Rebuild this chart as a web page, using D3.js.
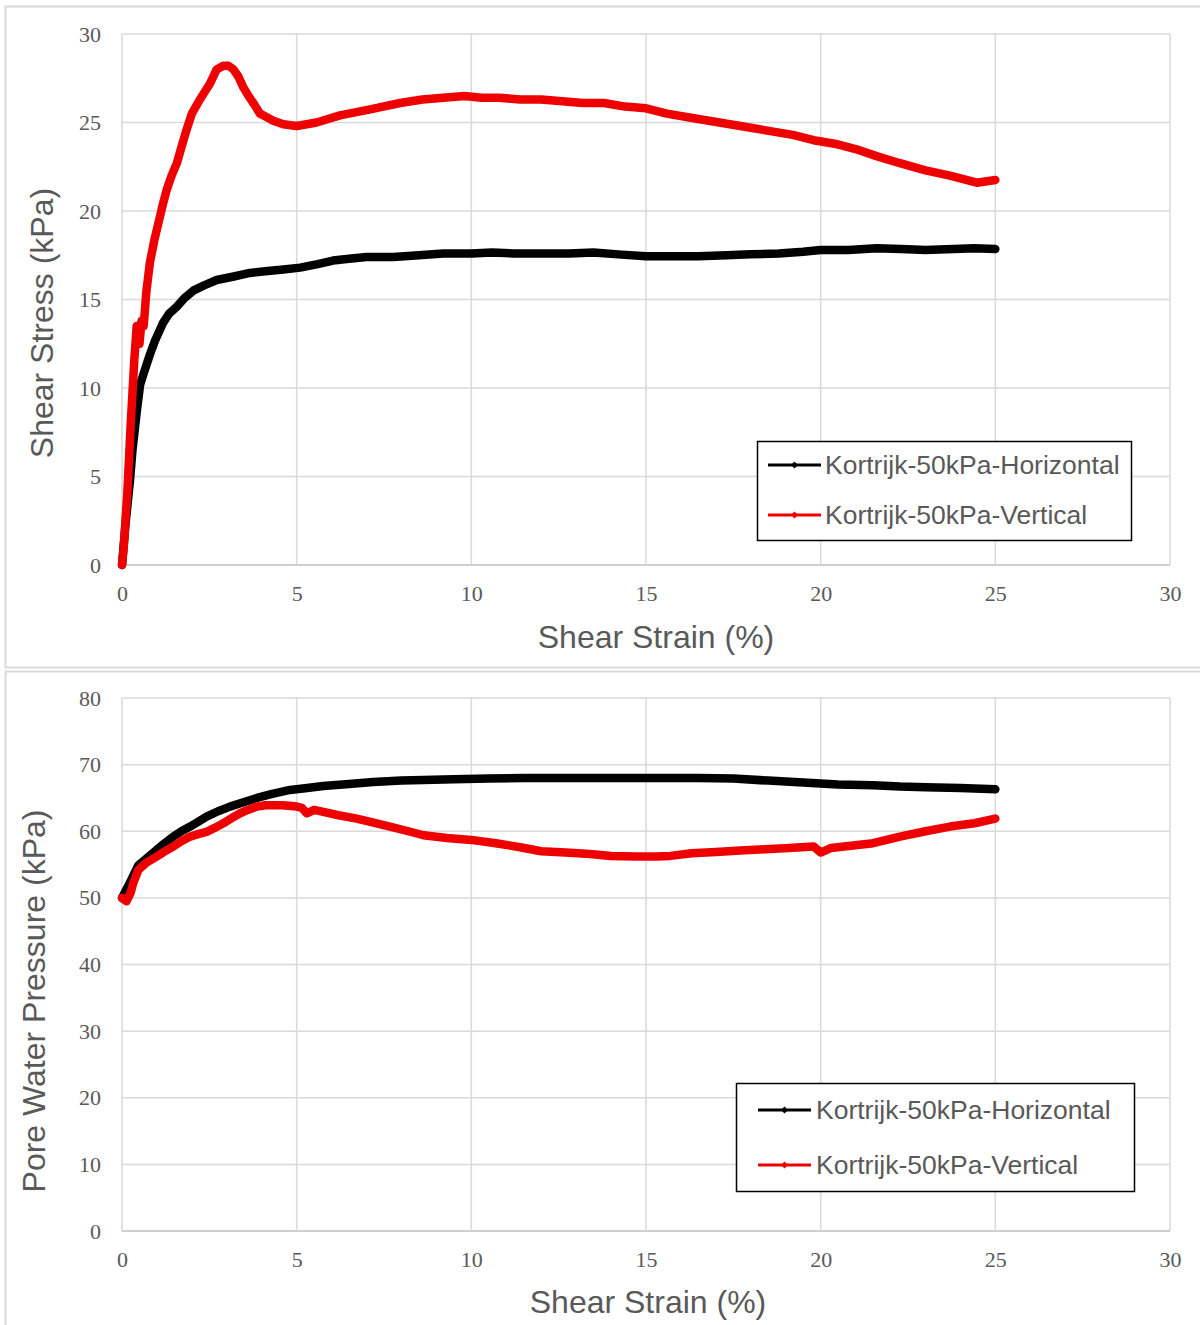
<!DOCTYPE html>
<html>
<head>
<meta charset="utf-8">
<script src="https://cdn.jsdelivr.net/npm/d3@7"></script>
<style>
  html, body { margin: 0; padding: 0; background: #fff; }
  svg { display: block; }
  .tick text { font-family: 'Liberation Serif', 'Times New Roman', serif !important; }
</style>
</head>
<body>
<svg id="chart" width="1200" height="1325"></svg>
<script>
// ---------- DATA ----------
const seriesNames = ["Kortrijk-50kPa-Horizontal", "Kortrijk-50kPa-Vertical"];
const xTicks = [0, 5, 10, 15, 20, 25, 30];
const stressTicks = [0, 5, 10, 15, 20, 25, 30];
const pwpTicks = [0, 10, 20, 30, 40, 50, 60, 70, 80];

// Shear stress vs strain, Horizontal
const strainStressH = [0,0.1,0.23,0.3,0.43,0.52,0.65,0.8,0.95,1.09,1.18,1.35,1.57,1.8,2.04,2.35,2.71,3.2,3.66,4.1,4.62,5.1,5.6,6.04,6.5,7.0,7.76,8.5,9.2,10,10.6,11.2,12,12.8,13.5,14.2,15,15.7,16.5,17.3,18,18.8,19.5,20,20.8,21.6,22.3,23,23.8,24.4,25];
const stressH = [0,2.3,4.8,6.5,8.8,10.2,11.0,11.9,12.7,13.3,13.7,14.2,14.6,15.1,15.5,15.8,16.1,16.3,16.5,16.6,16.7,16.8,17.0,17.2,17.3,17.4,17.4,17.5,17.6,17.6,17.65,17.6,17.6,17.6,17.65,17.55,17.45,17.45,17.45,17.5,17.55,17.6,17.7,17.8,17.8,17.9,17.85,17.8,17.85,17.9,17.85];

// Shear stress vs strain, Vertical
const strainStressV = [0,0.05,0.15,0.25,0.35,0.42,0.5,0.56,0.62,0.7,0.8,0.92,1.04,1.16,1.28,1.42,1.57,1.7,1.85,2.0,2.23,2.52,2.71,2.9,3.05,3.19,3.33,3.47,3.62,3.76,3.95,4.15,4.33,4.62,5.0,5.57,6.24,7.0,7.96,8.6,9.2,9.8,10.3,10.8,11.4,12,12.6,13.2,13.8,14.4,15,15.6,16.2,16.8,17.4,18,18.6,19.2,19.8,20.4,21,21.6,22.27,23,23.7,24.47,25];
const stressV = [0,1,4,8,11.5,13.5,12.5,13.8,13.5,15.5,17.1,18.3,19.3,20.3,21.2,22.0,22.7,23.6,24.6,25.5,26.3,27.2,28.0,28.2,28.2,28.0,27.6,27.0,26.5,26.1,25.5,25.3,25.1,24.9,24.8,25.0,25.4,25.7,26.1,26.3,26.4,26.5,26.4,26.4,26.3,26.3,26.2,26.1,26.1,25.9,25.8,25.5,25.3,25.1,24.9,24.7,24.5,24.3,24.0,23.8,23.5,23.1,22.7,22.3,22.0,21.6,21.75];

// Pore water pressure vs strain, Horizontal
const strainPwpH = [0,0.2,0.47,0.7,0.99,1.2,1.47,1.7,1.95,2.2,2.42,2.75,3.09,3.5,3.86,4.3,4.81,5.3,5.76,6.5,7.19,8,8.62,9.5,10.5,11.5,12.5,13.5,14.5,15.5,16.5,17.5,18.5,19.5,20.5,21.5,22.27,23,24,25];
const pwpH = [50,52,54.9,55.9,57.2,58.1,59.2,60.0,60.7,61.5,62.2,63.0,63.7,64.4,65.0,65.6,66.2,66.5,66.8,67.1,67.4,67.6,67.7,67.8,67.9,68.0,68.0,68.0,68.0,68.0,68.0,67.9,67.6,67.3,67.0,66.9,66.7,66.6,66.5,66.3];

// Pore water pressure vs strain, Vertical
const strainPwpV = [0,0.13,0.25,0.32,0.47,0.7,0.99,1.2,1.47,1.7,1.95,2.2,2.42,2.65,2.9,3.15,3.38,3.6,3.86,4.1,4.33,4.6,5.0,5.15,5.29,5.5,5.76,6.2,6.72,7.2,7.67,8.2,8.63,9.3,10,10.7,11.4,12,12.7,13.4,14,14.7,15.3,15.7,16.3,17,17.7,18.4,19.1,19.8,20.0,20.3,20.8,21.5,22.27,23,23.7,24.4,25];
const pwpV = [50,49.5,50.8,52.2,54.2,55.3,56.2,56.9,57.7,58.5,59.2,59.6,59.9,60.5,61.2,62.0,62.7,63.2,63.7,63.9,63.9,63.9,63.7,63.5,62.7,63.2,62.9,62.4,61.9,61.3,60.7,60.0,59.4,59.0,58.7,58.2,57.6,57.0,56.8,56.6,56.3,56.2,56.2,56.3,56.7,56.9,57.1,57.3,57.5,57.7,56.8,57.5,57.8,58.2,59.2,60.0,60.7,61.2,61.9];

const seriesColors = ["#000000", "#ee0000"];

// ---------- DRAW ----------
const svg = d3.select("#chart");
const GRID = "#d9d9d9";
const TXT = "#595959";

function zip(xs, ys) { return xs.map((x, i) => [x, ys[i]]); }

function panel(cfg) {
  svg.append("rect")
    .attr("x", 5.5).attr("y", cfg.frameTop + 0.5)
    .attr("width", 1210).attr("height", cfg.frameH)
    .attr("fill", "#fff").attr("stroke", GRID).attr("stroke-width", 2);

  const x = d3.scaleLinear().domain([0, 30]).range([122, 1170]);
  const y = d3.scaleLinear().domain([0, cfg.yMax]).range([cfg.y0, cfg.y1]);
  const g = svg.append("g");

  g.selectAll("line.hg").data(cfg.yTicks).join("line")
    .attr("x1", x(0)).attr("x2", x(30))
    .attr("y1", d => y(d)).attr("y2", d => y(d))
    .attr("stroke", d => d === 0 ? "#bfbfbf" : GRID).attr("stroke-width", 1.5);
  g.selectAll("line.vg").data(xTicks).join("line")
    .attr("y1", y(0)).attr("y2", y(cfg.yMax))
    .attr("x1", d => x(d)).attr("x2", d => x(d))
    .attr("stroke", GRID).attr("stroke-width", 1.5);

  const ax = g.append("g").attr("transform", `translate(0,${y(0)})`)
    .call(d3.axisBottom(x).tickValues(xTicks).tickSize(0).tickPadding(20));
  const ay = g.append("g").attr("transform", `translate(${x(0)},0)`)
    .call(d3.axisLeft(y).tickValues(cfg.yTicks).tickSize(0).tickPadding(21));
  [ax, ay].forEach(a => {
    a.select(".domain").remove();
    a.attr("font-family", "'Liberation Serif', 'Times New Roman', serif");
    a.selectAll("text")
      .style("font-family", "'Liberation Serif', 'Times New Roman', serif")
      .style("font-size", "22px").attr("fill", TXT);
  });

  const line = d3.line().x(d => x(d[0])).y(d => y(d[1]));
  cfg.series.forEach((s, i) => {
    g.append("path").datum(s)
      .attr("d", line)
      .attr("fill", "none")
      .attr("stroke", seriesColors[i])
      .attr("stroke-width", 8.5)
      .attr("stroke-linejoin", "round")
      .attr("stroke-linecap", "round");
  });

  svg.append("text")
    .attr("x", cfg.xTitleX).attr("y", cfg.xTitleY)
    .attr("text-anchor", "middle")
    .attr("font-family", "'Liberation Sans', Arial, sans-serif")
    .attr("font-size", 32).attr("fill", TXT)
    .text("Shear Strain (%)");
  svg.append("text")
    .attr("transform", `translate(${cfg.yTitleX},${cfg.yTitleCY}) rotate(-90)`)
    .attr("text-anchor", "middle")
    .attr("dy", "0.35em")
    .attr("font-family", "'Liberation Sans', Arial, sans-serif")
    .attr("font-size", 32).attr("fill", TXT)
    .text(cfg.yTitle);

  const L = cfg.legend;
  svg.append("rect")
    .attr("x", L.x).attr("y", L.y).attr("width", L.w).attr("height", L.h)
    .attr("fill", "#fff").attr("stroke", "#000").attr("stroke-width", 1.5);
  seriesNames.forEach((name, i) => {
    const ly = L.rows[i];
    svg.append("line")
      .attr("x1", L.lx1).attr("x2", L.lx2).attr("y1", ly).attr("y2", ly)
      .attr("stroke", seriesColors[i]).attr("stroke-width", 3);
    const mx = (L.lx1 + L.lx2) / 2;
    svg.append("path")
      .attr("d", `M${mx},${ly - 3.5}L${mx + 3.5},${ly}L${mx},${ly + 3.5}L${mx - 3.5},${ly}Z`)
      .attr("fill", seriesColors[i]);
    svg.append("text")
      .attr("x", L.tx).attr("y", ly).attr("dy", "0.35em")
      .attr("font-family", "'Liberation Sans', Arial, sans-serif")
      .attr("font-size", 26.5).attr("fill", TXT)
      .text(name);
  });
}

panel({
  frameTop: 6, frameH: 661,
  yMax: 30, y0: 565, y1: 34, yTicks: stressTicks,
  series: [zip(strainStressH, stressH), zip(strainStressV, stressV)],
  xTitleX: 656, xTitleY: 648, yTitle: "Shear Stress (kPa)", yTitleX: 42, yTitleCY: 323,
  legend: { x: 757.5, y: 441.5, w: 374, h: 99, lx1: 768, lx2: 821, tx: 825, rows: [465, 515] }
});

panel({
  frameTop: 671, frameH: 700,
  yMax: 80, y0: 1231, y1: 698, yTicks: pwpTicks,
  series: [zip(strainPwpH, pwpH), zip(strainPwpV, pwpV)],
  xTitleX: 648, xTitleY: 1313, yTitle: "Pore Water Pressure (kPa)", yTitleX: 34, yTitleCY: 1001,
  legend: { x: 736.5, y: 1083.5, w: 398, h: 108, lx1: 758, lx2: 811, tx: 816, rows: [1110, 1165] }
});
</script>
</body>
</html>
